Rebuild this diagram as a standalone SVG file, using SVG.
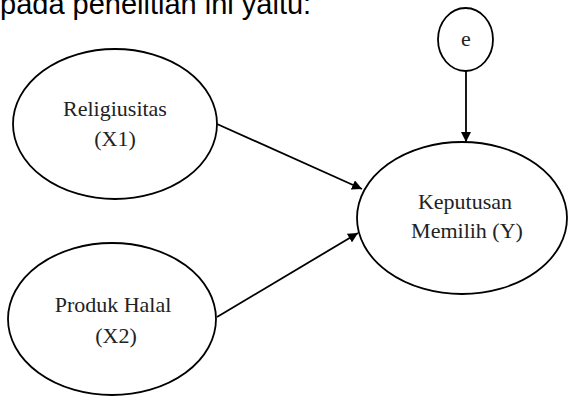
<svg xmlns="http://www.w3.org/2000/svg" width="568" height="396" viewBox="0 0 568 396">
<style>
.node{fill:#fff;stroke:#000;stroke-width:1.8}
.lbl{font-family:"Liberation Serif","Times New Roman",serif;font-size:22px;fill:#222;text-anchor:middle}
.edge{stroke:#000;stroke-width:1.8;fill:none}
.head{font-family:"Liberation Sans",Arial,sans-serif;font-size:29px;fill:#000}
</style>
<defs>
<marker id="arr" markerWidth="10" markerHeight="10" refX="10" refY="5" orient="auto" markerUnits="userSpaceOnUse">
<path d="M0,0 L10,5 L0,10 Z" fill="#000"/>
</marker>
</defs>
<rect width="568" height="396" fill="#fff"/>
<text class="head" x="0" y="14">pada penelitian ini yaitu:</text>
<g id="connectors">
<line class="edge" x1="217" y1="124" x2="362" y2="189" marker-end="url(#arr)"/>
<line class="edge" x1="217" y1="317" x2="358" y2="233" marker-end="url(#arr)"/>
<line class="edge" x1="466" y1="71" x2="466" y2="142" marker-end="url(#arr)"/>
</g>
<g id="religiusitas">
<ellipse class="node" cx="115" cy="124" rx="102" ry="75"/>
<text class="lbl" x="115" y="116">Religiusitas</text>
<text class="lbl" x="115" y="146">(X1)</text>
</g>
<g id="produk-halal">
<ellipse class="node" cx="112" cy="319" rx="104" ry="76"/>
<text class="lbl" x="113" y="312">Produk Halal</text>
<text class="lbl" x="116" y="343">(X2)</text>
</g>
<g id="keputusan">
<ellipse class="node" cx="462" cy="218" rx="105" ry="76"/>
<text class="lbl" x="465" y="209">Keputusan</text>
<text class="lbl" x="467" y="238">Memilih (Y)</text>
</g>
<g id="e">
<ellipse class="node" cx="465.5" cy="39.5" rx="27.5" ry="31.5"/>
<text class="lbl" x="466" y="46">e</text>
</g>
</svg>
